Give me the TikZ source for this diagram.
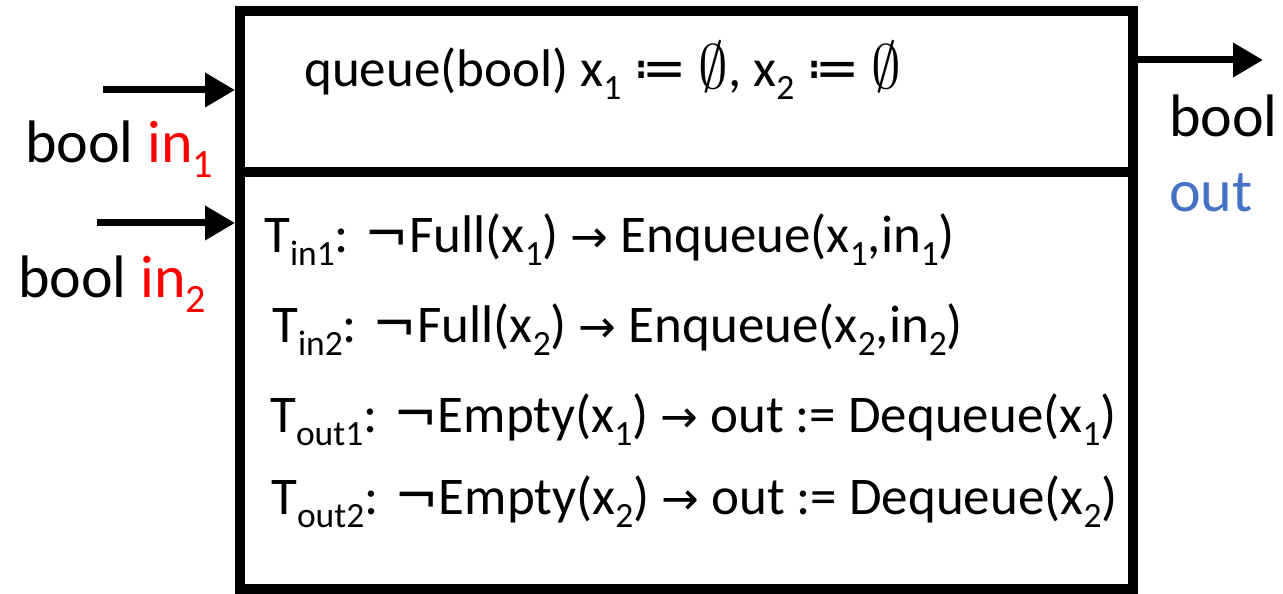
\RequirePackage{fix-cm}
\documentclass[tikz,border=0pt]{standalone}
\usepackage{graphicx}
\usepackage{fontspec}
\setmainfont{Carlito}
\newfontfamily\symf{DejaVu Sans}
\usetikzlibrary{arrows.meta}
\definecolor{inred}{RGB}{255,0,0}
\definecolor{outblue}{RGB}{68,114,196}
\newcommand\sbx[1]{\raisebox{-0.24em}{\scalebox{0.67}{#1}}}
\newcommand\rarr{{\symf\scalebox{0.85}{→}}}
\newcommand\defeq{{\symf ≔}}
\newcommand\negsym{{\symf ¬}}
\newcommand\emptyq{\raisebox{-0.03em}{\scalebox{1.12}[1.18]{$\emptyset$}}}
\begin{document}
\begin{tikzpicture}[x=1pt,y=1pt,
  compart/.style={draw, line width=10pt, inner sep=0pt, outer sep=0pt, anchor=north west},
  arr/.style={line width=7pt, -{Triangle[length=30pt,width=33pt]}},
  lab/.style={anchor=base west, inner sep=0pt, font=\fontsize{60}{66}\selectfont},
  initt/.style={anchor=base west, inner sep=0pt, font=\fontsize{53}{60}\selectfont},
  rulet/.style={anchor=base west, inner sep=0pt, font=\fontsize{53}{60}\selectfont}]
\path[use as bounding box] (0,0) rectangle (1283,594);
\node[compart, minimum width=893pt, minimum height=161pt] (init) at (240,583) {};
\node[compart, minimum width=893pt, minimum height=417pt] (rules) at (init.south west) {};
\coordinate (in1s) at (103,504);
\draw[arr, shorten >=5pt] (in1s) -- (in1s -| init.west);
\coordinate (in2s) at (97,371);
\draw[arr, shorten >=5pt] (in2s) -- (in2s -| rules.west);
\coordinate (outend) at (1263,534);
\draw[arr, shorten <=5pt] (outend -| init.east) -- (outend);
\node[lab] (lin1) at (25,431) {bool \textcolor{inred}{in\sbx{1}}};
\node[lab] (lin2) at (18,296) {bool \textcolor{inred}{in\sbx{2}}};
\node[lab] (lbool) at (1169,457) {bool};
\node[lab, text=outblue] (lout) at (1169,382) {out};
\node[initt] (decl) at (304,507) {queue(bool) x\sbx{1} \defeq{} \emptyq, x\sbx{2} \defeq{} \emptyq};
\node[rulet] (r1) at (264,341) {T\sbx{in1}: \negsym{}Full(x\sbx{1}) \rarr{} Enqueue(x\sbx{1},in\sbx{1})};
\node[rulet] (r2) at (272,251) {T\sbx{in2}: \negsym{}Full(x\sbx{2}) \rarr{} Enqueue(x\sbx{2},in\sbx{2})};
\node[rulet] (r3) at (270,161) {T\sbx{out1}: \negsym{}Empty(x\sbx{1}) \rarr{} out := Dequeue(x\sbx{1})};
\node[rulet] (r4) at (271,79) {T\sbx{out2}: \negsym{}Empty(x\sbx{2}) \rarr{} out := Dequeue(x\sbx{2})};
\end{tikzpicture}
\end{document}
